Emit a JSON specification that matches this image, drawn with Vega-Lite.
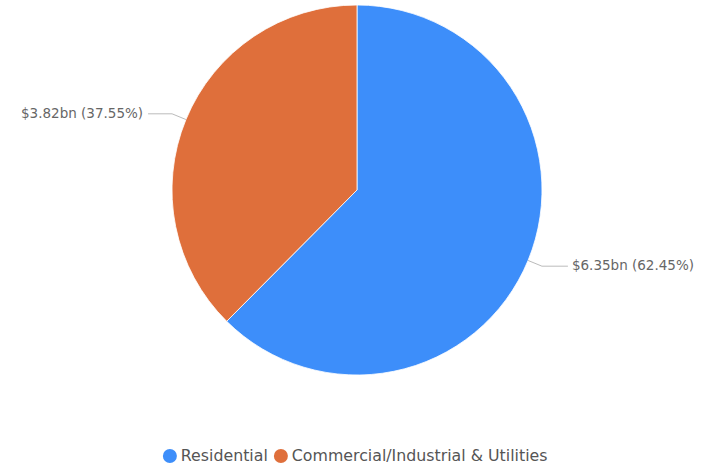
{
  "$schema": "https://vega.github.io/schema/vega-lite/v6.json",
  "width": 702,
  "height": 380,
  "padding": {"left": 6, "top": 0, "right": 0, "bottom": 85},
  "autosize": {"type": "none"},
  "background": "#ffffff",
  "config": {"view": {"stroke": null}, "font": "DejaVu Sans"},
  "data": {
    "values": [
      {"category": "Residential", "value": 6.35, "label": "$6.35bn (62.45%)", "order": 1},
      {"category": "Commercial/Industrial & Utilities", "value": 3.82, "label": "$3.82bn (37.55%)", "order": 2}
    ]
  },
  "layer": [
    {
      "mark": {"type": "arc", "outerRadius": 185, "stroke": "#ffffff", "strokeWidth": 0.8},
      "encoding": {
        "theta": {"field": "value", "type": "quantitative", "stack": true},
        "order": {"field": "order", "type": "quantitative"},
        "color": {
          "field": "category",
          "type": "nominal",
          "scale": {"domain": ["Residential", "Commercial/Industrial & Utilities"], "range": ["#3d8efa", "#df6f3b"]},
          "legend": {
            "title": null,
            "orient": "none",
            "legendX": 156,
            "legendY": 448,
            "direction": "horizontal",
            "symbolType": "circle",
            "symbolSize": 196,
            "symbolStrokeWidth": 0,
            "labelFontSize": 15.8,
            "labelColor": "#555555",
            "labelFont": "DejaVu Sans",
            "labelLimit": 0,
            "columnPadding": 5,
            "labelOffset": 3
          }
        }
      }
    },
    {
      "transform": [
        {"joinaggregate": [{"op": "sum", "field": "value", "as": "total"}]},
        {"window": [{"op": "sum", "field": "value", "as": "cum"}], "sort": [{"field": "order"}], "frame": [null, 0]},
        {"calculate": "2*PI*(datum.cum - datum.value/2)/datum.total", "as": "mid"},
        {"calculate": "185*sin(datum.mid)", "as": "x0"},
        {"calculate": "185*cos(datum.mid)", "as": "y0"},
        {"calculate": "200*sin(datum.mid)", "as": "x1"},
        {"calculate": "200*cos(datum.mid)", "as": "y1"}
      ],
      "mark": {"type": "rule", "color": "#bbbbbb", "strokeWidth": 1},
      "encoding": {
        "x": {"field": "x0", "type": "quantitative", "scale": {"domain": [-351, 351]}, "axis": null},
        "y": {"field": "y0", "type": "quantitative", "scale": {"domain": [-190, 190]}, "axis": null},
        "x2": {"field": "x1"},
        "y2": {"field": "y1"}
      }
    },
    {
      "transform": [
        {"joinaggregate": [{"op": "sum", "field": "value", "as": "total"}]},
        {"window": [{"op": "sum", "field": "value", "as": "cum"}], "sort": [{"field": "order"}], "frame": [null, 0]},
        {"calculate": "2*PI*(datum.cum - datum.value/2)/datum.total", "as": "mid"},
        {"calculate": "200*sin(datum.mid)", "as": "x1"},
        {"calculate": "200*cos(datum.mid)", "as": "y1"},
        {"calculate": "datum.x1 + (datum.x1 > 0 ? 26 : -24)", "as": "x2"}
      ],
      "mark": {"type": "rule", "color": "#bbbbbb", "strokeWidth": 1},
      "encoding": {
        "x": {"field": "x1", "type": "quantitative", "scale": {"domain": [-351, 351]}, "axis": null},
        "y": {"field": "y1", "type": "quantitative", "scale": {"domain": [-190, 190]}, "axis": null},
        "x2": {"field": "x2"},
        "y2": {"field": "y1"}
      }
    },
    {
      "transform": [
        {"joinaggregate": [{"op": "sum", "field": "value", "as": "total"}]},
        {"window": [{"op": "sum", "field": "value", "as": "cum"}], "sort": [{"field": "order"}], "frame": [null, 0]},
        {"calculate": "2*PI*(datum.cum - datum.value/2)/datum.total", "as": "mid"},
        {"calculate": "200*sin(datum.mid)", "as": "x1"},
        {"calculate": "200*cos(datum.mid)", "as": "y1"},
        {"calculate": "datum.x1 + (datum.x1 > 0 ? 26 : -24)", "as": "x2"},
        {"filter": "datum.x1 > 0"}
      ],
      "mark": {"type": "text", "align": "left", "baseline": "middle", "dx": 4, "fontSize": 13.5, "color": "#666666", "font": "DejaVu Sans"},
      "encoding": {
        "x": {"field": "x2", "type": "quantitative", "scale": {"domain": [-351, 351]}, "axis": null},
        "y": {"field": "y1", "type": "quantitative", "scale": {"domain": [-190, 190]}, "axis": null},
        "text": {"field": "label"}
      }
    },
    {
      "transform": [
        {"joinaggregate": [{"op": "sum", "field": "value", "as": "total"}]},
        {"window": [{"op": "sum", "field": "value", "as": "cum"}], "sort": [{"field": "order"}], "frame": [null, 0]},
        {"calculate": "2*PI*(datum.cum - datum.value/2)/datum.total", "as": "mid"},
        {"calculate": "200*sin(datum.mid)", "as": "x1"},
        {"calculate": "200*cos(datum.mid)", "as": "y1"},
        {"calculate": "datum.x1 + (datum.x1 > 0 ? 26 : -24)", "as": "x2"},
        {"filter": "datum.x1 <= 0"}
      ],
      "mark": {"type": "text", "align": "right", "baseline": "middle", "dx": -5, "fontSize": 13.5, "color": "#666666", "font": "DejaVu Sans"},
      "encoding": {
        "x": {"field": "x2", "type": "quantitative", "scale": {"domain": [-351, 351]}, "axis": null},
        "y": {"field": "y1", "type": "quantitative", "scale": {"domain": [-190, 190]}, "axis": null},
        "text": {"field": "label"}
      }
    }
  ]
}
